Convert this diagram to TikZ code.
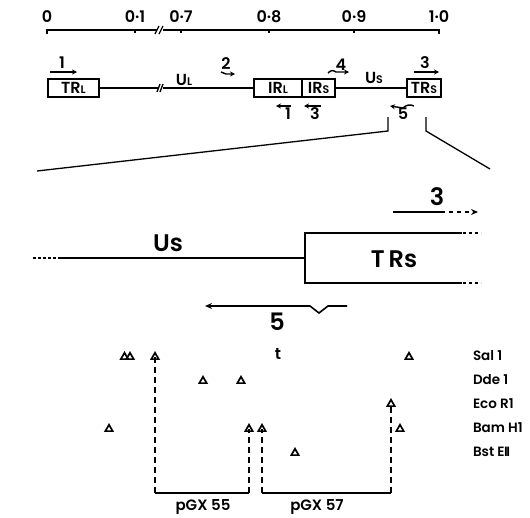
\documentclass[tikz,border=0pt]{standalone}
\usepackage{fontspec}
\setmainfont{Poppins}[BoldFont={* SemiBold}]
\usetikzlibrary{shapes.geometric,arrows.meta}
\begin{document}
\begin{tikzpicture}[x=1pt,y=-1pt,
  every node/.style={inner sep=0pt,outer sep=0pt},
  lbl/.style={font=\fontsize{16}{16}\bfseries},
  biglbl/.style={font=\fontsize{24}{24}\bfseries},
  enz/.style={font=\fontsize{13.5}{14}\bfseries,anchor=west},
  gbox/.style={draw,line width=1.8pt,minimum height=18pt,font=\fontsize{16}{16}\bfseries},
  mapline/.style={line width=1.6pt},
  thinl/.style={line width=1.3pt},
  arr/.style={line width=1.4pt,-{Stealth[length=5pt,width=5pt]}},
  tri/.style={regular polygon,regular polygon sides=3,draw,line width=1.7pt,minimum size=8.5pt},
  dline/.style={line width=1.8pt,dash pattern=on 6pt off 4pt}]
\useasboundingbox (0,0) rectangle (530,517);
\newcommand{\sml}[1]{{\fontsize{11}{11}\bfseries #1}}
% ---------- scale ----------
\node[lbl] (s0) at (47,17) {0};
\node[lbl] (s1) at (135,17) {0·1};
\node[lbl] (s7) at (181,17) {0·7};
\node[lbl] (s8) at (269,17) {0·8};
\node[lbl] (s9) at (354,17) {0·9};
\node[lbl] (s10) at (439,17) {1·0};
\draw[mapline] (47,34) -- (47,30) -- (157,30);
\draw[mapline] (163,30) -- (439,30) -- (439,34);
\foreach \x in {135,181,269,354} \draw[mapline] (\x,30) -- (\x,33);
\draw[thinl] (155,34) -- (159,26);
\draw[thinl] (159,34) -- (163,26);
% ---------- genome map ----------
\node[gbox,minimum width=51pt] (trl) at (73.5,88) {TR\sml{L}};
\node[gbox,minimum width=48pt] (irl) at (278,88) {IR\sml{L}};
\node[gbox,minimum width=33pt] (irs) at (318.5,88) {IR\sml{S}};
\node[gbox,minimum width=34pt] (trs) at (424,88) {TR\sml{S}};
\draw[thinl] (trl.east) -- (159,88);
\draw[thinl] (163,88) -- (irl.west);
\draw[thinl] (irs.east) -- (trs.west);
\draw[thinl] (157,92) -- (160,84);
\draw[thinl] (160,92) -- (163,84);
\node[lbl] (ul) at (184,80) {U\sml{L}};
\node[lbl] (us) at (374,78) {U\sml{S}};
% arrows above
\node[lbl] (a1) at (62,63) {1};
\draw[arr] (50,72) -- (77,72);
\node[lbl] (a2) at (226,64) {2};
\draw[arr] (221,72) -- (226,74) -- (235,74);
\node[lbl] (a4) at (341,65) {4};
\draw[arr] (328,73) .. controls (331,70) and (333,70) .. (336,72) -- (349,72);
\node[lbl] (a3) at (425,63) {3};
\draw[arr] (414,72) -- (439,72);
% arrows below
\draw[arr] (291,106) -- (276,106);
\node[lbl] (b1) at (288,114) {1};
\draw[arr] (321,106) -- (304,106);
\node[lbl] (b3) at (315,114) {3};
\draw[arr] (414,106) .. controls (410,104) and (406,105) .. (403,108) -- (390,106);
\node[lbl] (b5) at (403,114) {5};
% zoom lines
\coordinate (zl1) at (388,117);
\coordinate (zl2) at (388,131);
\coordinate (zl3) at (37,171);
\coordinate (zr1) at (426,117);
\coordinate (zr2) at (426,131);
\coordinate (zr3) at (490,169);
\draw[thinl] (zl1) -- (zl2) -- (zl3);
\draw[thinl] (zr1) -- (zr2) -- (zr3);
% ---------- detail ----------
\coordinate (ds) at (33,258);
\coordinate (dm) at (60,258);
\coordinate (bx) at (305,258);
\draw[mapline,dash pattern=on 3pt off 2pt] (ds) -- (dm);
\draw[mapline] (dm) -- (bx);
\draw[mapline] (462,233) -- (305,233) -- (305,283) -- (462,283);
\draw[mapline,dash pattern=on 3pt off 3pt] (463,233) -- (481,233);
\draw[mapline,dash pattern=on 3pt off 3pt] (463,283) -- (481,283);
\node[biglbl] (dus) at (168,243) {Us};
\node[biglbl] (dtrs) at (394,259) {T\,Rs};
\node[biglbl] (d3) at (437,197) {3};
\draw[line width=1.6pt] (393,212) -- (445,212);
\draw[line width=1.6pt,dash pattern=on 4pt off 4pt,-{Stealth[length=7pt,width=6pt]}] (449,212) -- (478,212);
\draw[line width=1.6pt,-{Stealth[length=7pt,width=6pt]}] (347,306) -- (328,306) -- (319,313) -- (310,306) -- (205,306);
\node[biglbl] (d5) at (277,322) {5};
% ---------- restriction sites ----------
\node[enz] (esal) at (473,356) {Sal 1};
\node[enz] (edde) at (473,380) {Dde 1};
\node[enz] (eeco) at (473,404) {Eco R1};
\node[enz] (ebam) at (473,428) {Bam H1};
\node[enz] (ebst) at (473,452) {Bst E\kern-0.5pt I\kern-1.5ptI};
\node[lbl] (tt) at (278,354) {t};
% Sal 1
\node[tri] (sa1) at (124.5,357) {};
\node[tri] (sa2) at (130,357) {};
\node[tri] (sa3) at (155,357) {};
\node[tri] (sa4) at (409,357) {};
% Dde 1
\node[tri] (dd1) at (203,381) {};
\node[tri] (dd2) at (241,381) {};
% Eco R1
\node[tri] (ec1) at (391,404) {};
% Bam H1
\node[tri] (ba1) at (109,429) {};
\node[tri] (ba2) at (249,429) {};
\node[tri] (ba3) at (262,429) {};
\node[tri] (ba4) at (400,429) {};
% Bst EII
\node[tri] (bs1) at (295,453) {};
% clones
\coordinate (p1a) at (155,493);
\coordinate (p1b) at (249,493);
\coordinate (p2a) at (262,493);
\coordinate (p2b) at (391,493);
\draw[dline] ([yshift=2pt]sa3.south) -- (p1a);
\draw[mapline] (p1a) -- (p1b);
\draw[dline] (p1b) -- ([yshift=2pt]ba2.south);
\draw[dline] (p2a) -- ([yshift=2pt]ba3.south);
\draw[mapline] (p2a) -- (p2b);
\draw[dline] (p2b) -- ([yshift=2pt]ec1.south);
\node[font=\fontsize{15}{15}\bfseries] (g55) at (203,507) {pGX 55};
\node[font=\fontsize{15}{15}\bfseries] (g57) at (317,507) {pGX 57};
\end{tikzpicture}
\end{document}
